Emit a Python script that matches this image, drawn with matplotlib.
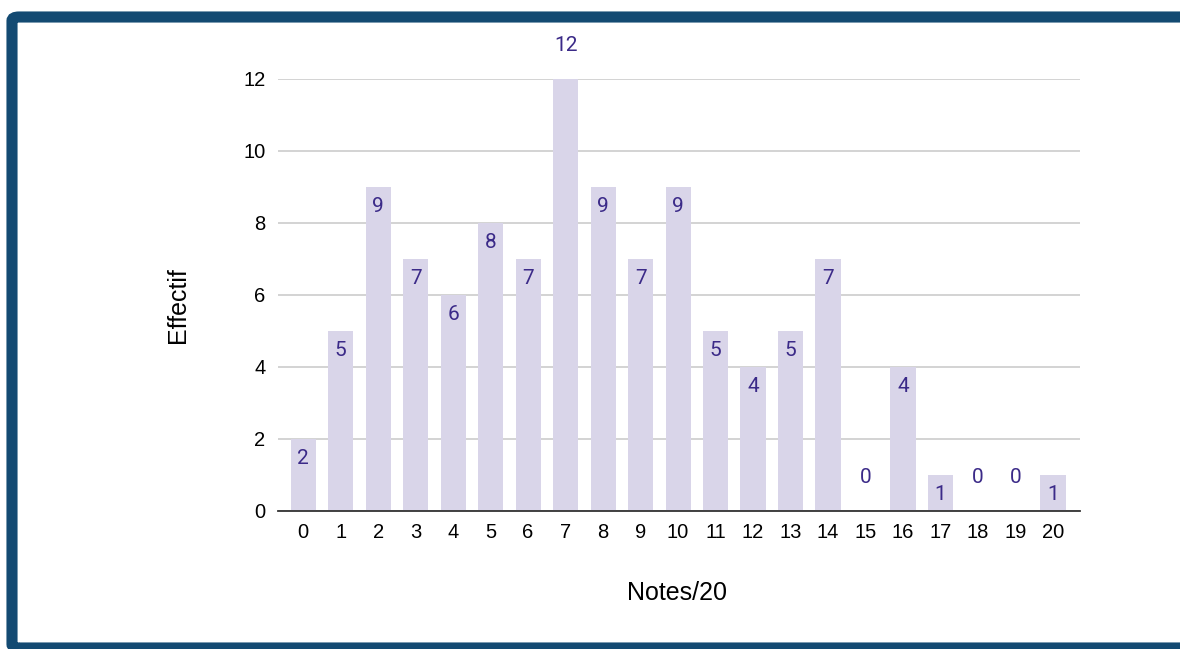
import matplotlib.pyplot as plt
from matplotlib.patches import FancyBboxPatch

# Histogram of grades (Notes/20)
notes = list(range(0, 21))
effectifs = [2, 5, 9, 7, 6, 8, 7, 12, 9, 7, 9, 5, 4, 5, 7, 0, 4, 1, 0, 0, 1]

bar_color = "#d9d5e9"
label_color = "#3b2a88"
frame_color = "#134a72"

plt.rcParams['font.family'] = ['Liberation Sans', 'DejaVu Sans']

fig = plt.figure(figsize=(11.8, 6.49), dpi=100)
ax = fig.add_axes([278 / 1180, 1 - 511 / 649, (1080 - 278) / 1180, (511 - 79) / 649])

ax.bar(notes, effectifs, width=0.67, color=bar_color, zorder=2)

# value labels: inside the bar near the top, above it for empty / highest bars
top = max(effectifs)
for x, v in zip(notes, effectifs):
    if v == 0 or v == top:
        ax.annotate(str(v), (x, v), xytext=(0, 24), textcoords='offset points',
                    ha='center', va='center', fontsize=15, color=label_color,
                    family=['Roboto', 'DejaVu Sans'], annotation_clip=False)
    else:
        ax.annotate(str(v), (x, v), xytext=(0, -14), textcoords='offset points',
                    ha='center', va='center', fontsize=15, color=label_color,
                    family=['Roboto', 'DejaVu Sans'], zorder=3)

ax.set_xlim(-0.67, 20.72)
ax.set_ylim(0, 12)
ax.set_yticks(range(0, 13, 2))
ax.set_xticks(notes)
ax.grid(axis='y', color='#cccccc', linewidth=1.2, zorder=0)
ax.tick_params(length=0, labelsize=14.5)
ax.tick_params(axis='x', pad=9)
ax.tick_params(axis='y', pad=9)
for side in ['top', 'right', 'left']:
    ax.spines[side].set_visible(False)
ax.spines['bottom'].set_color('#333333')
ax.spines['bottom'].set_linewidth(1.3)
ax.spines['bottom'].set_zorder(4)

fig.text(178 / 1180, 1 - 305 / 649, 'Effectif', rotation=90, ha='center', va='center', fontsize=18)
fig.text(677 / 1180, 1 - 593 / 649, 'Notes/20', ha='center', va='center', fontsize=18)

# blue frame around the chart
frame = FancyBboxPatch((12 / 1180, 1 - 648 / 649), 1.2, (648 - 17) / 649,
                       boxstyle='round,pad=0,rounding_size=0.006',
                       transform=fig.transFigure, fill=False,
                       edgecolor=frame_color, linewidth=8, clip_on=False)
fig.patches.append(frame)

fig.savefig('out.png', dpi=100)
